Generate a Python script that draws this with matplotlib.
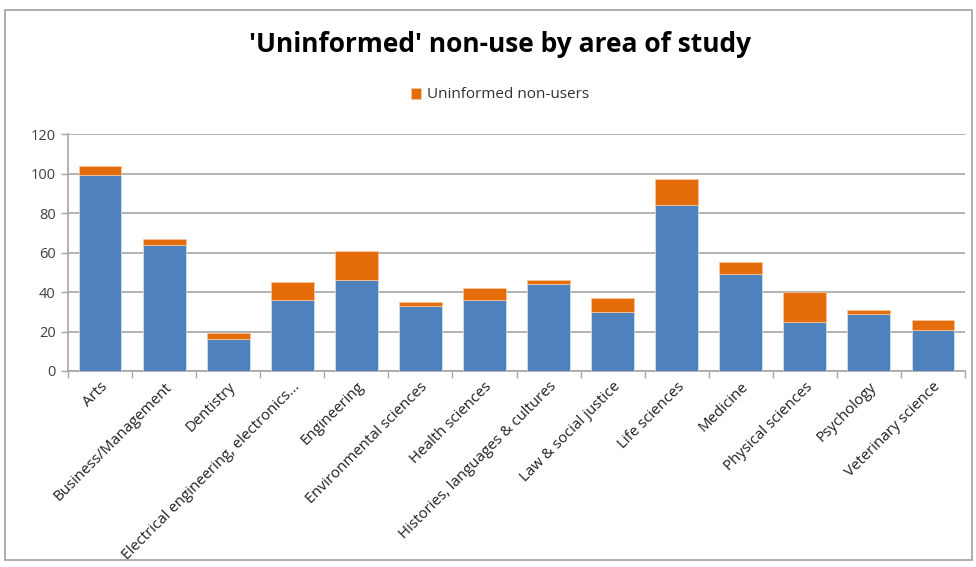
import matplotlib
matplotlib.use("Agg")
import matplotlib.pyplot as plt
from matplotlib.patches import Rectangle
import numpy as np

plt.rcParams["font.family"] = ["Open Sans", "DejaVu Sans"]

categories = [
    "Arts", "Business/Management", "Dentistry",
    "Electrical engineering, electronics...", "Engineering",
    "Environmental sciences", "Health sciences",
    "Histories, languages & cultures", "Law & social justice",
    "Life sciences", "Medicine", "Physical sciences", "Psychology",
    "Veterinary science",
]
other_non_users = [99, 64, 16, 36, 46, 33, 36, 44, 30, 84, 49, 25, 29, 21]
uninformed_non_users = [5, 3, 3, 9, 15, 2, 6, 2, 7, 13, 6, 15, 2, 5]
y_ticks = [0, 20, 40, 60, 80, 100, 120]

BLUE = "#4f81bd"
ORANGE = "#e46c0a"
GRID = "#a6a6a6"

fig = plt.figure(figsize=(9.76, 5.67), dpi=100)
fig.patch.set_facecolor("white")

# chart-area frame
fig.patches.append(Rectangle((5 / 976, 7 / 567), 967 / 976, 550 / 567,
                             transform=fig.transFigure, fill=False,
                             edgecolor="#a0a0a0", linewidth=1.2))

ax = fig.add_axes([68 / 976, 1 - 371 / 567, (965 - 68) / 976, (371 - 134) / 567])

x = np.arange(len(categories))
ax.bar(x, other_non_users, width=0.67, color=BLUE, edgecolor="#dce6f2",
       linewidth=0.5, zorder=3)
ax.bar(x, uninformed_non_users, bottom=other_non_users, width=0.67,
       color=ORANGE, edgecolor="#f7c9a5", linewidth=0.5, zorder=3,
       label="Uninformed non-users")

ax.set_xlim(-0.5, len(categories) - 0.5)
ax.set_ylim(0, 120)
ax.set_yticks(y_ticks)
ax.set_yticklabels([str(v) for v in y_ticks], fontsize=10.5, color="#404040")
ax.yaxis.grid(True, color=GRID, linewidth=1.2, zorder=0)
ax.set_axisbelow(True)

ax.set_xticks(x)
ax.set_xticklabels(categories, rotation=45, ha="right", rotation_mode="anchor",
                   fontsize=10.8, color="#202020")
ax.tick_params(axis="x", length=0, pad=6)
# category boundary tick marks
ax.set_xticks(np.arange(-0.5, len(categories)), minor=True)
ax.tick_params(axis="x", which="minor", length=5, color=GRID, width=1)
ax.tick_params(axis="y", length=5, color=GRID, width=1, pad=4)

for side in ["top", "right"]:
    ax.spines[side].set_visible(False)
ax.spines["left"].set_color(GRID)
ax.spines["bottom"].set_color(GRID)
ax.spines["left"].set_linewidth(1.2)
ax.spines["bottom"].set_linewidth(1.2)

fig.text(500 / 976, 1 - 45 / 567, "'Uninformed' non-use by area of study",
         ha="center", va="center", fontsize=19, fontweight="bold", color="black")

handles, labels = ax.get_legend_handles_labels()
fig.legend(handles, labels, loc="center", bbox_to_anchor=(500 / 976, 1 - 95 / 567),
           frameon=False, fontsize=11, handlelength=0.7, handleheight=0.7,
           handletextpad=0.4, labelcolor="#303030")

fig.savefig("out.png", dpi=100, facecolor="white")
